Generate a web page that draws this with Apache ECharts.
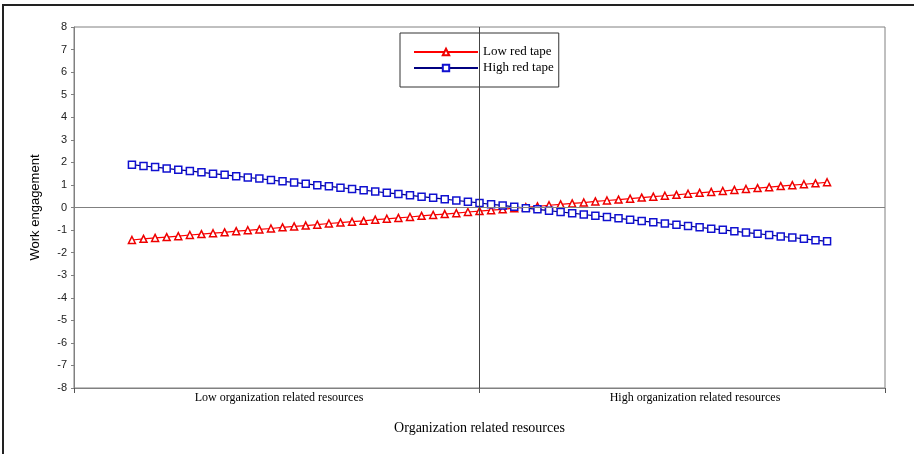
<!DOCTYPE html>
<html>
<head>
<meta charset="utf-8">
<script src="https://cdn.jsdelivr.net/npm/echarts@6/dist/echarts.min.js"></script>
<style>
html,body{margin:0;padding:0;background:#fff;}
#wrap{position:relative;width:914px;height:454px;overflow:hidden;}
#frame{position:absolute;left:2px;top:4px;width:940px;height:480px;border-left:2px solid #222;border-top:2px solid #222;box-sizing:border-box;pointer-events:none;z-index:2;}
#chart{position:absolute;left:0;top:0;width:914px;height:454px;}
</style>
</head>
<body>
<div id="wrap"><div id="chart"></div><div id="frame"></div></div>
<script>
// x positions of points (organization related resources, centered)
var xValues = [-3.0,-2.9,-2.8,-2.7,-2.6,-2.5,-2.4,-2.3,-2.2,-2.1,-2.0,-1.9,-1.8,-1.7,-1.6,-1.5,-1.4,-1.3,-1.2,-1.1,-1.0,-0.9,-0.8,-0.7,-0.6,-0.5,-0.4,-0.3,-0.2,-0.1,0.0,0.1,0.2,0.3,0.4,0.5,0.6,0.7,0.8,0.9,1.0,1.1,1.2,1.3,1.4,1.5,1.6,1.7,1.8,1.9,2.0,2.1,2.2,2.3,2.4,2.5,2.6,2.7,2.8,2.9,3.0];
var lowRedTape = [-1.44,-1.39,-1.35,-1.31,-1.27,-1.22,-1.18,-1.14,-1.10,-1.05,-1.01,-0.97,-0.93,-0.88,-0.84,-0.80,-0.76,-0.71,-0.67,-0.63,-0.59,-0.54,-0.50,-0.46,-0.42,-0.37,-0.33,-0.29,-0.25,-0.20,-0.16,-0.12,-0.08,-0.03,0.01,0.05,0.10,0.14,0.18,0.22,0.27,0.31,0.35,0.39,0.44,0.48,0.52,0.56,0.61,0.65,0.69,0.73,0.78,0.82,0.86,0.90,0.95,0.99,1.03,1.07,1.12];
var highRedTape = [1.90,1.84,1.79,1.73,1.67,1.62,1.56,1.50,1.45,1.39,1.33,1.28,1.22,1.16,1.11,1.05,0.99,0.94,0.88,0.82,0.77,0.71,0.65,0.60,0.54,0.48,0.43,0.37,0.31,0.26,0.20,0.14,0.09,0.03,-0.03,-0.08,-0.14,-0.20,-0.25,-0.31,-0.37,-0.42,-0.48,-0.54,-0.60,-0.65,-0.71,-0.77,-0.82,-0.88,-0.94,-0.99,-1.05,-1.11,-1.16,-1.22,-1.28,-1.33,-1.39,-1.45,-1.50];
var seriesNames = ['Low red tape','High red tape'];
var xTickLabels = ['Low organization related resources','High organization related resources'];
var xTickLabelPositions = [-1.73, 1.86];
var xTickPositions = [-3.5, 0, 3.5];

function pairs(ys){ return xValues.map(function(x,i){ return [x, ys[i]]; }); }

var chart = echarts.init(document.getElementById('chart'), null, {renderer:'canvas'});
var option = {
  animation:false,
  backgroundColor:'#fff',
  grid:{left:74, right:29, top:27, bottom:66, show:true, borderColor:'#808080', borderWidth:1, backgroundColor:'transparent'},
  legend:{
    orient:'vertical', left:400, top:33,
    padding:[12,5,12,13], itemGap:2, itemWidth:64, itemHeight:8,
    backgroundColor:'#fff', borderColor:'#333', borderWidth:1,
    textStyle:{fontFamily:'Liberation Serif', fontSize:13, lineHeight:14, color:'#000'},
    data:seriesNames
  },
  xAxis:{
    type:'value', min:-3.5, max:3.5,
    name:'Organization related resources', nameLocation:'middle', nameGap:33,
    nameTextStyle:{fontFamily:'Liberation Serif', fontSize:14, color:'#000'},
    axisLine:{onZero:false, lineStyle:{color:'#808080', width:1}},
    axisTick:{show:true, inside:false, length:5, customValues:xTickPositions, lineStyle:{color:'#555'}},
    axisLabel:{show:true, margin:4, customValues:xTickLabelPositions,
      fontFamily:'Liberation Serif', fontSize:12, color:'#000',
      formatter:function(v){ var i = xTickLabelPositions.indexOf(v); return i>=0 ? xTickLabels[i] : ''; }},
    splitLine:{show:false}
  },
  yAxis:{
    type:'value', min:-8, max:8, interval:1,
    name:'Work engagement', nameLocation:'middle', nameGap:32,
    nameTextStyle:{fontFamily:'Liberation Sans', fontSize:13, color:'#000'},
    axisLine:{show:true, onZero:false, lineStyle:{color:'#808080', width:1}},
    axisTick:{show:true, inside:false, length:3, lineStyle:{color:'#808080'}},
    axisLabel:{margin:7, fontFamily:'Liberation Sans', fontSize:11, color:'#222'},
    splitLine:{show:false}
  },
  series:[
    {
      name:seriesNames[0], type:'line', data:pairs(lowRedTape),
      symbol:'triangle', symbolSize:7, showAllSymbol:true,
      lineStyle:{color:'#ff0000', width:1.2},
      itemStyle:{color:'#fff', borderColor:'#ee0000', borderWidth:1.5},
      z:3,
      markLine:{silent:true, symbol:'none', label:{show:false},
        lineStyle:{color:'#808080', width:1, type:'solid'},
        data:[{yAxis:0}]}
    },
    {
      name:seriesNames[1], type:'line', data:pairs(highRedTape),
      symbol:'rect', symbolSize:7, showAllSymbol:true,
      lineStyle:{color:'#000080', width:1.2},
      itemStyle:{color:'#fff', borderColor:'#1010d0', borderWidth:1.5},
      z:4,
      markLine:{silent:true, symbol:'none', label:{show:false},
        lineStyle:{color:'#444', width:1, type:'solid'},
        data:[{xAxis:0}]}
    }
  ]
};
chart.setOption(option);
</script>
</body>
</html>
